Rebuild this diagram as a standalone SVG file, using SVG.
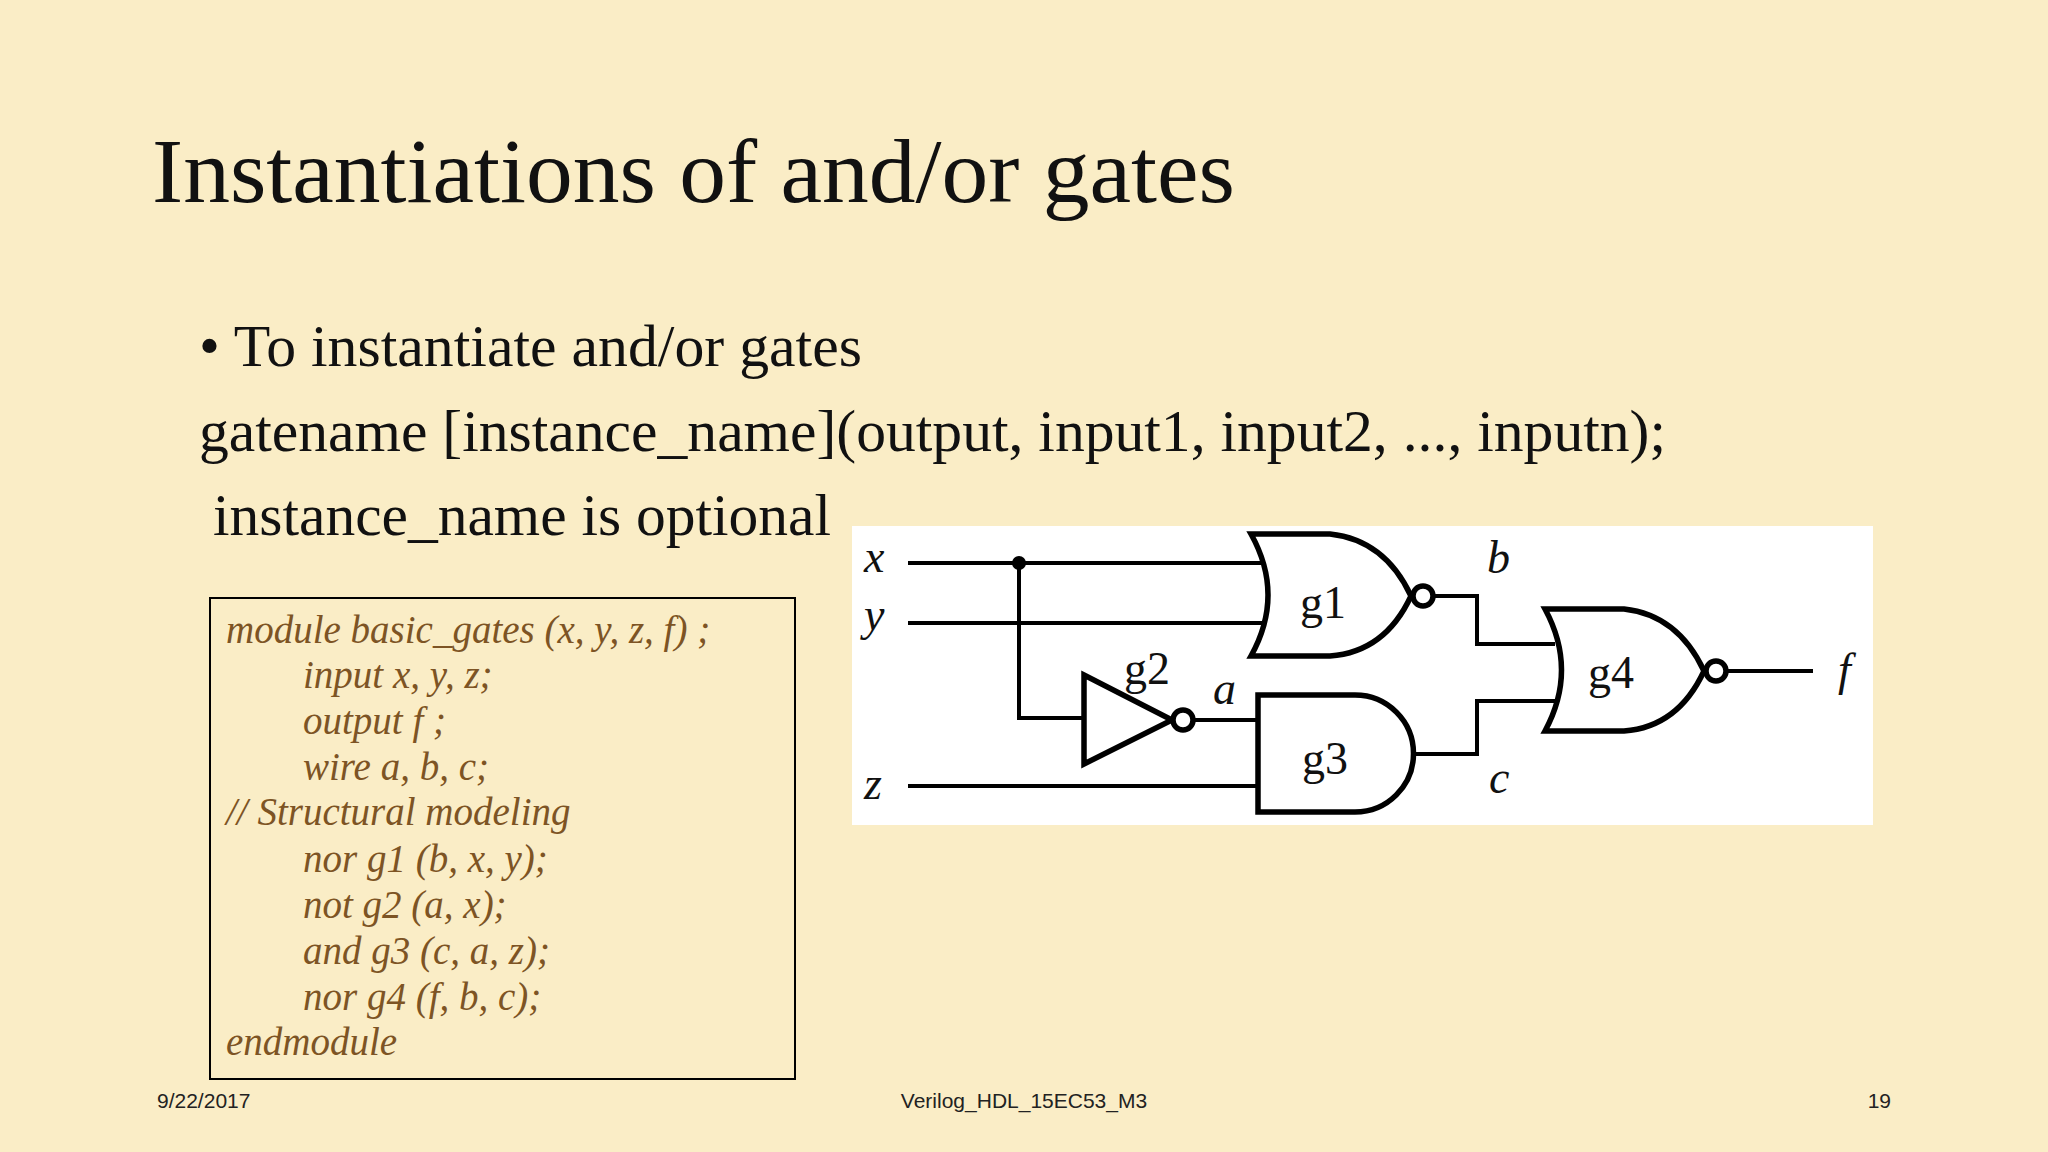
<svg xmlns="http://www.w3.org/2000/svg" width="2048" height="1152" viewBox="0 0 2048 1152">
<style>
.t{font-family:"Liberation Serif",serif;fill:#111}
.c{font-family:"Liberation Serif",serif;font-style:italic;font-size:39px;fill:#7d5424}
.f{font-family:"Liberation Sans",sans-serif;font-size:21px;fill:#222}
.g{fill:#fff;stroke:#000;stroke-width:5.5}
.w{fill:none;stroke:#000;stroke-width:4}
.l{font-family:"Liberation Serif",serif;font-size:46px;fill:#111}
.li{font-family:"Liberation Serif",serif;font-style:italic;font-size:46px;fill:#111}
</style>
<rect width="2048" height="1152" fill="#faedc6"/>
<text class="t" x="152" y="202" font-size="92" textLength="1083" lengthAdjust="spacingAndGlyphs">Instantiations of and/or gates</text>
<text class="t" x="199" y="366" font-size="59" textLength="663" lengthAdjust="spacingAndGlyphs">• To instantiate and/or gates</text>
<text class="t" x="199" y="451" font-size="59" textLength="1467" lengthAdjust="spacingAndGlyphs">gatename [instance_name](output, input1, input2, ..., inputn);</text>
<text class="t" x="213" y="535" font-size="59" textLength="618" lengthAdjust="spacingAndGlyphs">instance_name is optional</text>
<g id="code">
<rect x="210" y="598" width="585" height="481" fill="none" stroke="#000" stroke-width="2"/>
<text class="c" x="226" y="643">module basic_gates (x, y, z, f) ;</text>
<text class="c" x="303" y="688">input x, y, z;</text>
<text class="c" x="303" y="734">output f ;</text>
<text class="c" x="303" y="780">wire a, b, c;</text>
<text class="c" x="226" y="825">// Structural modeling</text>
<text class="c" x="303" y="872">nor g1 (b, x, y);</text>
<text class="c" x="303" y="918">not g2 (a, x);</text>
<text class="c" x="303" y="964">and g3 (c, a, z);</text>
<text class="c" x="303" y="1010">nor g4 (f, b, c);</text>
<text class="c" x="226" y="1055">endmodule</text>
</g>
<rect x="852" y="526" width="1021" height="299" fill="#fff"/>
<g id="connectors">
<path class="w" d="M908,563H1262 M908,623H1262 M908,786H1262 M1019,563V718H1086 M1192,720H1260 M1434,596H1477V644H1555 M1413,754H1477V701H1555 M1726,671H1813"/>
<circle cx="1019" cy="563" r="7" fill="#000"/>
</g>
<g id="g1"><path class="g" d="M1251,534H1330Q1385,540 1411,596Q1385,652 1330,656H1251Q1285,595 1251,534Z"/><circle class="g" cx="1423" cy="596" r="10" stroke-width="4.5"/><text class="l" x="1300" y="618">g1</text></g>
<g id="g2"><path class="g" d="M1084,675L1172,720L1084,764Z"/><circle class="g" cx="1183" cy="720" r="10" stroke-width="4.5"/><text class="l" x="1124" y="684">g2</text></g>
<g id="g3"><path class="g" d="M1258,695H1355A58.5,58.5 0 0 1 1355,812H1258Z"/><text class="l" x="1302" y="774">g3</text></g>
<g id="g4"><path class="g" d="M1545,609H1624Q1678,615 1704,671Q1678,727 1624,731H1545Q1578,670 1545,609Z"/><circle class="g" cx="1716" cy="671" r="10" stroke-width="4.5"/><text class="l" x="1588" y="688">g4</text></g>
<g id="labels">
<text class="li" x="864" y="572">x</text>
<text class="li" x="864" y="630">y</text>
<text class="li" x="864" y="799">z</text>
<text class="li" x="1487" y="573">b</text>
<text class="li" x="1489" y="793">c</text>
<text class="li" x="1213" y="704">a</text>
<text class="li" x="1838" y="685">f</text>
</g>
<text class="f" x="157" y="1108">9/22/2017</text>
<text class="f" x="1024" y="1108" text-anchor="middle">Verilog_HDL_15EC53_M3</text>
<text class="f" x="1891" y="1108" text-anchor="end">19</text>
</svg>
